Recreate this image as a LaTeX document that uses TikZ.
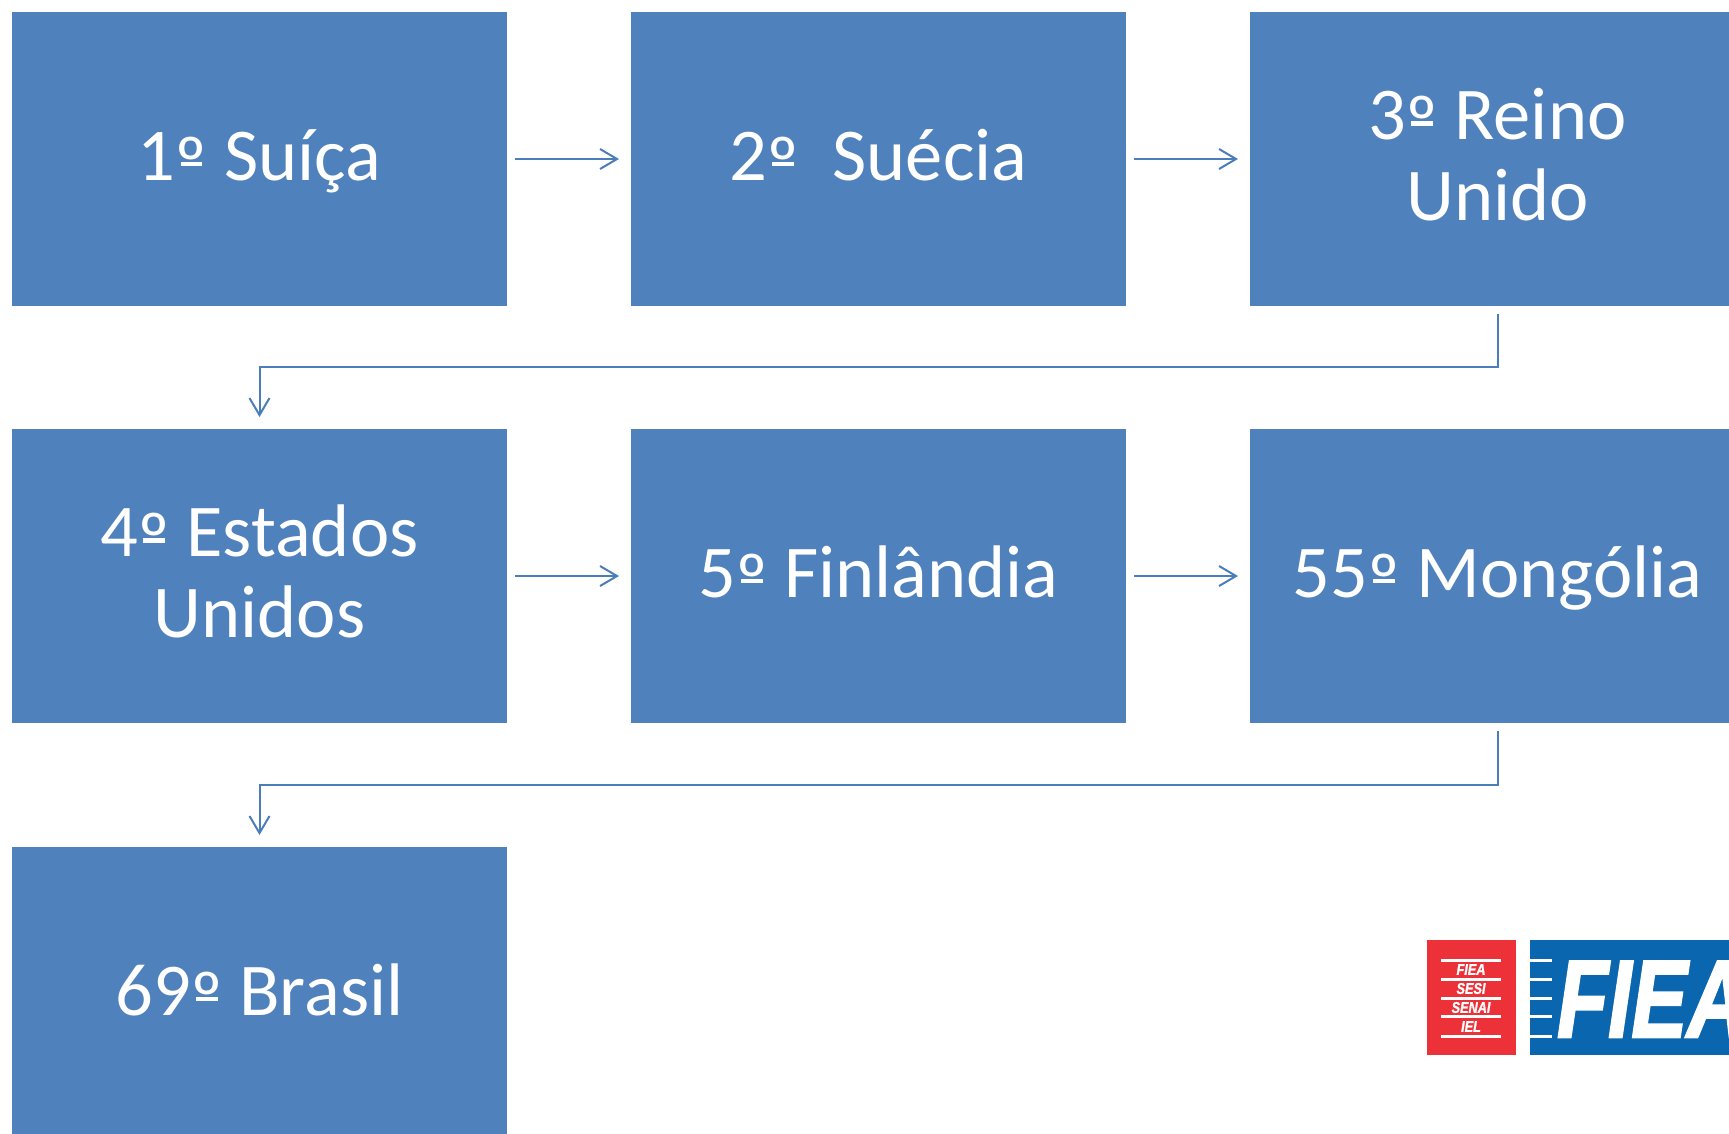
\documentclass[tikz,border=0pt]{standalone}
\usepackage{fontspec}
\usetikzlibrary{arrows.meta}
\setmainfont{Carlito}
\newfontfamily\logofat[FakeBold=2.4]{Liberation Sans Bold Italic}
\newfontfamily\logosm[FakeBold=1.5]{Liberation Sans Bold Italic}
\definecolor{boxblue}{HTML}{4F81BD}
\definecolor{linkblue}{HTML}{4A7EBB}
\definecolor{logored}{HTML}{EC3238}
\definecolor{logoblue}{HTML}{0A66AE}
\newcommand{\lnstrut}{\rule[-.237em]{0pt}{1.05em}}
\newcommand{\ordm}{\sbox0{º}\rlap{\makebox[\wd0][c]{\rule[.19em]{.29em}{.06em}}}\makebox[\wd0][c]{\raisebox{-.13em}{\scalebox{1.05}{º}}}}
\tikzset{
  x=1pt,y=-1pt,
  rank/.style={rectangle,fill=boxblue,minimum width=495pt,minimum height=294pt,inner sep=0pt,outer sep=0pt,text=white,align=center,
    font=\fontsize{74.5pt}{81pt}\selectfont},
  link/.style={draw=linkblue,line width=2pt,-{Straight Barb[length=17pt,width=20pt,line width=2pt]},shorten >=12pt},
  linkh/.style={link,shorten <=8pt},
  linkv/.style={link,shorten <=8pt},
  logosmall/.style={text=white,inner sep=0pt,xscale=.82,font=\logosm\fontsize{15.5pt}{15.5pt}\selectfont},
  logorule/.style={draw=white,line width=3pt},
}
\begin{document}
\begin{tikzpicture}
\useasboundingbox (0,0) rectangle (1729,1133);
\clip (0,0) rectangle (1729,1133);
\node[rank] (a) at (259.5,159) {\lnstrut 1\ordm{} Suíça};
\node[rank] (b) at (878.5,159) {\lnstrut 2\ordm\ \ Suécia};
\node[rank] (c) at (1497.5,159) {\lnstrut 3\ordm{} Reino\\\lnstrut Unido};
\node[rank] (d) at (259.5,576) {\lnstrut 4\ordm{} Estados\\\lnstrut Unidos};
\node[rank] (e) at (878.5,576) {\lnstrut 5\ordm{} Finlândia};
\node[rank] (f) at (1497.5,576) {\lnstrut 55\ordm{} Mongólia};
\node[rank] (g) at (259.5,994) {\lnstrut 69\ordm{} Brasil};
\coordinate (m1) at (1497.5,367);
\coordinate (m2) at (1497.5,784.5);
\draw[linkh] (a) -- (b);
\draw[linkh] (b) -- (c);
\draw[linkv] (c.south) -- (m1) -| (d.north);
\draw[linkh] (d) -- (e);
\draw[linkh] (e) -- (f);
\draw[linkv] (f.south) -- (m2) -| (g.north);
% logo
\fill[logored] (1427,940) rectangle (1516,1055);
\fill[logoblue] (1530,940) rectangle (1729,1055);
\foreach \yy in {960,979,998,1016.5,1036}{
  \draw[logorule] (1441,\yy) -- (1501,\yy);
  \draw[logorule] (1530,\yy) -- (1552,\yy);
}
\node[logosmall] (l1) at (1471,969.5) {FIEA};
\node[logosmall] (l2) at (1471,988.5) {SESI};
\node[logosmall] (l3) at (1471,1007.5) {SENAI};
\node[logosmall] (l4) at (1471,1026.5) {IEL};
\node[anchor=base west,inner sep=0pt,text=white,xscale=0.76,font=\logofat\fontsize{110pt}{110pt}\selectfont] (l5) at (1557,1037) {FIEA};
\end{tikzpicture}
\end{document}
